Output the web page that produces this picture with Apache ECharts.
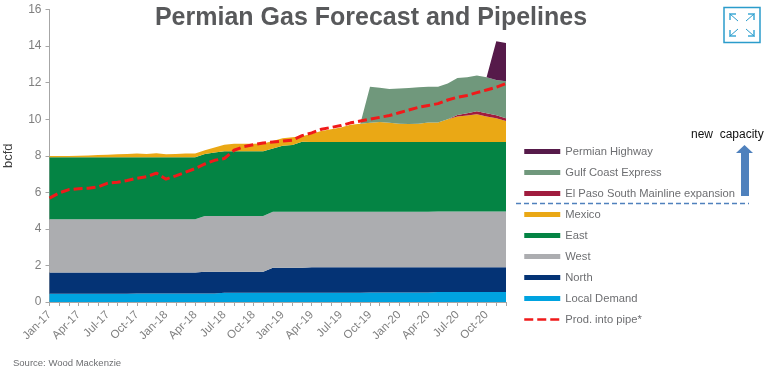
<!DOCTYPE html>
<html>
<head>
<meta charset="utf-8">
<style>html,body{margin:0;padding:0;background:#fff}#main{width:764px;height:375px}</style>
<script src="https://cdn.jsdelivr.net/npm/echarts@6/dist/echarts.min.js"></script>
</head>
<body>
<div id="main"></div>
<script>
var months = ['Jan-17','Feb-17','Mar-17','Apr-17','May-17','Jun-17','Jul-17','Aug-17','Sep-17','Oct-17','Nov-17','Dec-17',
  'Jan-18','Feb-18','Mar-18','Apr-18','May-18','Jun-18','Jul-18','Aug-18','Sep-18','Oct-18','Nov-18','Dec-18',
  'Jan-19','Feb-19','Mar-19','Apr-19','May-19','Jun-19','Jul-19','Aug-19','Sep-19','Oct-19','Nov-19','Dec-19',
  'Jan-20','Feb-20','Mar-20','Apr-20','May-20','Jun-20','Jul-20','Aug-20','Sep-20','Oct-20','Nov-20','Dec-20'];

// stacked pieces, bcfd
var localDemand = [.45,.45,.45,.45,.45,.45,.45,.45,.45,.47,.47,.47,.47,.47,.47,.47,.47,.47,.5,.5,.5,.5,.5,.5,
  .5,.5,.5,.5,.5,.5,.5,.5,.5,.52,.52,.52,.52,.52,.52,.52,.55,.55,.55,.55,.55,.55,.55,.55];
var north = [1.17,1.17,1.17,1.17,1.17,1.17,1.17,1.17,1.17,1.15,1.15,1.15,1.15,1.15,1.15,1.15,1.18,1.18,1.15,1.15,1.15,1.15,1.15,1.37,
  1.37,1.37,1.37,1.4,1.4,1.4,1.4,1.4,1.4,1.38,1.38,1.38,1.38,1.38,1.38,1.38,1.35,1.35,1.35,1.35,1.35,1.35,1.35,1.35];
var west = [2.91,2.91,2.91,2.91,2.91,2.91,2.91,2.91,2.91,2.91,2.91,2.91,2.91,2.91,2.91,2.91,3.05,3.05,3.05,3.05,3.05,3.05,3.05,3.06,
  3.06,3.06,3.06,3.03,3.03,3.03,3.03,3.03,3.03,3.03,3.03,3.03,3.03,3.03,3.03,3.03,3.05,3.05,3.05,3.05,3.05,3.05,3.05,3.05];
var east = [3.39,3.39,3.39,3.39,3.39,3.39,3.39,3.39,3.39,3.39,3.39,3.39,3.39,3.39,3.39,3.39,3.4,3.48,3.55,3.55,3.55,3.55,3.55,3.46,
  3.62,3.66,3.83,3.82,3.82,3.82,3.82,3.82,3.82,3.82,3.82,3.82,3.82,3.82,3.82,3.82,3.8,3.8,3.8,3.8,3.8,3.8,3.8,3.8];
var mexico = [.06,.06,.06,.08,.1,.12,.14,.16,.18,.2,.18,.21,.16,.18,.2,.2,.2,.27,.35,.4,.4,.4,.42,.42,
  .41,.42,.3,.45,.6,.7,.8,.95,1,1.05,1.1,1.05,1,.98,1,1.07,1.07,1.25,1.4,1.45,1.52,1.4,1.3,1.15];
var elPaso = [0,0,0,0,0,0,0,0,0,0,0,0,0,0,0,0,0,0,0,0,0,0,0,0,
  0,0,0,0,0,0,0,0,0,0,0,0,0,0,0,0,0,0,.08,.12,.16,.17,.17,.15];
var gulfCoast = [0,0,0,0,0,0,0,0,0,0,0,0,0,0,0,0,0,0,0,0,0,0,0,0,
  0,0,0,0,0,0,0,0,0,1.97,1.87,1.85,1.93,1.97,2,1.96,1.95,1.95,2.02,1.98,1.96,1.98,1.93,2.03];
var permianHighway = [0,0,0,0,0,0,0,0,0,0,0,0,0,0,0,0,0,0,0,0,0,0,0,0,
  0,0,0,0,0,0,0,0,0,0,0,0,0,0,0,0,0,0,0,0,0,0,2.11,2.09];
var prodIntoPipe = [5.68,5.97,6.15,6.2,6.22,6.3,6.5,6.55,6.65,6.77,6.85,7.05,6.72,6.9,7.1,7.3,7.55,7.75,7.85,8.3,8.5,8.6,8.7,8.75,
  8.8,8.85,9.1,9.25,9.45,9.55,9.65,9.8,9.9,10,10.1,10.2,10.35,10.5,10.65,10.75,10.85,11.05,11.2,11.3,11.45,11.6,11.75,11.95];

var yTicks = {min: 0, max: 16, interval: 2};
var font = '"Liberation Sans", Arial, sans-serif';

function area(name, data, color) {
  return {
    name: name,
    type: 'line',
    stack: 'gas',
    data: data,
    symbol: 'none',
    lineStyle: {width: 0},
    itemStyle: {color: color},
    areaStyle: {color: color, opacity: 1}
  };
}

var myChart = echarts.init(document.getElementById('main'));

var option = {
  animation: false,
  title: {
    text: 'Permian Gas Forecast and Pipelines',
    left: 366,
    top: 1,
    textAlign: 'center',
    textStyle: {fontFamily: font, fontSize: 25, fontWeight: 'bold', color: '#58595b'}
  },
  grid: {left: 49.5, right: 258, top: 9.5, bottom: 73, outerBoundsMode: 'none'},
  legend: {
    orient: 'vertical',
    left: 523,
    top: 146,
    padding: 0,
    itemWidth: 36,
    itemHeight: 5,
    itemGap: 10,
    selectedMode: false,
    textStyle: {fontFamily: font, fontSize: 11.2, color: '#6d6e71'},
    data: [
      {name: 'Permian Highway', icon: 'rect'},
      {name: 'Gulf Coast Express', icon: 'rect'},
      {name: 'El Paso South Mainline expansion', icon: 'rect'},
      {name: 'Mexico', icon: 'rect'},
      {name: 'East', icon: 'rect'},
      {name: 'West', icon: 'rect'},
      {name: 'North', icon: 'rect'},
      {name: 'Local Demand', icon: 'rect'},
      {name: 'Prod. into pipe*', itemStyle: {opacity: 0}, lineStyle: {width: 2.5, type: [9, 4]}}
    ]
  },
  xAxis: {
    type: 'category',
    data: months,
    boundaryGap: false,
    axisLine: {lineStyle: {color: '#a6a6a6', width: 1}},
    axisTick: {interval: 0, length: 4, lineStyle: {color: '#a6a6a6'}},
    axisLabel: {interval: 2, rotate: 45, fontFamily: font, fontSize: 11.5, color: '#7f7f7f', margin: 11}
  },
  yAxis: {
    type: 'value',
    min: yTicks.min,
    max: yTicks.max,
    interval: yTicks.interval,
    name: 'bcfd',
    nameLocation: 'middle',
    nameRotate: 90,
    nameGap: 35,
    nameTextStyle: {fontFamily: font, fontSize: 13, color: '#404040'},
    splitLine: {show: false},
    axisLine: {show: true, lineStyle: {color: '#a6a6a6', width: 1}},
    axisTick: {show: true, length: 4, lineStyle: {color: '#a6a6a6'}},
    axisLabel: {fontFamily: font, fontSize: 12, color: '#7f7f7f', margin: 8}
  },
  series: [
    area('Local Demand', localDemand, '#00a3e0'),
    area('North', north, '#043375'),
    area('West', west, '#acadb0'),
    area('East', east, '#048444'),
    area('Mexico', mexico, '#eaa815'),
    area('El Paso South Mainline expansion', elPaso, '#a01c3e'),
    area('Gulf Coast Express', gulfCoast, '#70987c'),
    area('Permian Highway', permianHighway, '#561a4a'),
    {
      name: 'Prod. into pipe*',
      type: 'line',
      data: prodIntoPipe,
      symbol: 'none',
      z: 5,
      itemStyle: {color: '#f01a1a'},
      lineStyle: {color: '#f01a1a', width: 3, type: [9, 4]}
    }
  ],
  graphic: [
    {type: 'text', left: 13, top: 358, style: {text: 'Source: Wood Mackenzie', font: '9.5px ' + font, fill: '#6d6e71'}},
    {type: 'text', left: 691, top: 129, style: {text: 'new  capacity', font: '12px ' + font, fill: '#111'}},
    // divider + arrow for new capacity
    {type: 'line', shape: {x1: 516, y1: 203.5, x2: 749, y2: 203.5}, style: {stroke: '#4f81bd', lineWidth: 1.5, lineDash: [5, 3]}},
    {type: 'polygon', shape: {points: [[741, 196], [741, 153], [736, 153], [744.5, 145], [753, 153], [749, 153], [749, 196]]}, style: {fill: '#4f81bd'}},
    // expand icon, top right
    {type: 'rect', shape: {x: 724, y: 7.5, width: 36, height: 35}, style: {fill: '#fff', stroke: '#2b9ccb', lineWidth: 1.5}},
    {type: 'polyline', shape: {points: [[730, 20], [730, 14], [736, 14]]}, style: {fill: 'none', stroke: '#6fbfe0', lineWidth: 2}},
    {type: 'line', shape: {x1: 730, y1: 14, x2: 738, y2: 21}, style: {stroke: '#2b9ccb', lineWidth: 1}},
    {type: 'polyline', shape: {points: [[748, 14], [754, 14], [754, 20]]}, style: {fill: 'none', stroke: '#6fbfe0', lineWidth: 2}},
    {type: 'line', shape: {x1: 754, y1: 14, x2: 746, y2: 21}, style: {stroke: '#2b9ccb', lineWidth: 1}},
    {type: 'polyline', shape: {points: [[730, 30], [730, 36], [736, 36]]}, style: {fill: 'none', stroke: '#6fbfe0', lineWidth: 2}},
    {type: 'line', shape: {x1: 730, y1: 36, x2: 738, y2: 29}, style: {stroke: '#2b9ccb', lineWidth: 1}},
    {type: 'polyline', shape: {points: [[748, 36], [754, 36], [754, 30]]}, style: {fill: 'none', stroke: '#6fbfe0', lineWidth: 2}},
    {type: 'line', shape: {x1: 754, y1: 36, x2: 746, y2: 29}, style: {stroke: '#2b9ccb', lineWidth: 1}}
  ]
};

myChart.setOption(option);
</script>
</body>
</html>
